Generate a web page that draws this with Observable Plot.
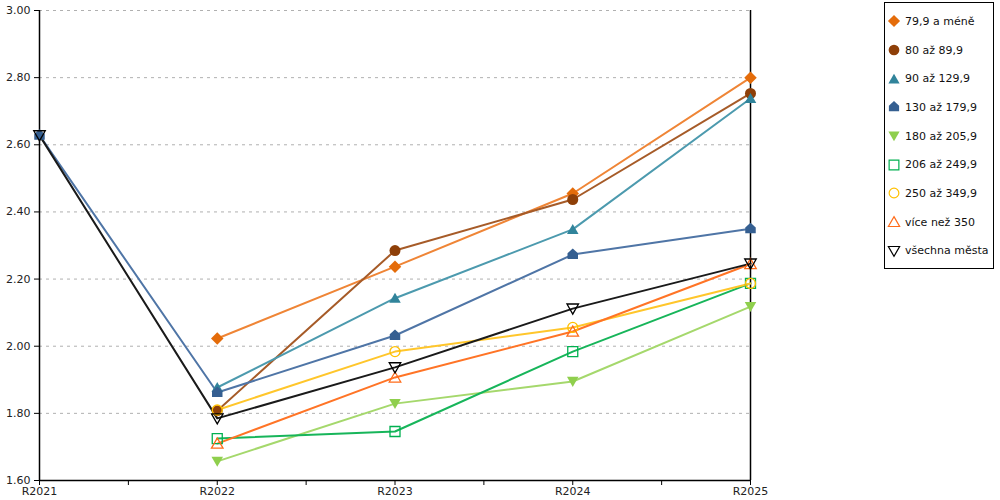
<!DOCTYPE html>
<html>
<head>
<meta charset="utf-8">
<script src="https://cdn.jsdelivr.net/npm/d3@7"></script>
<script src="https://cdn.jsdelivr.net/npm/@observablehq/plot@0.6"></script>
<style>
  html, body { margin: 0; padding: 0; background: #fff; }
  #wrap { position: relative; width: 1000px; height: 500px; font-family: "DejaVu Sans", Verdana, sans-serif; }
  #chart { position: absolute; left: 0; top: 0; }
  #legend { position: absolute; left: 884px; top: 2px; width: 110px; height: 267px; border: 1px solid #000; box-sizing: border-box; padding-top: 4px; }
  .item { display: flex; align-items: center; height: 28.7px; font-size: 11px; color: #111; white-space: nowrap; }
  .item svg { margin-left: 2px; margin-right: 4px; flex: none; }
</style>
</head>
<body>
<div id="wrap"><div id="chart"></div><div id="legend"></div></div>
<script>
// ---- data ----
const years = ["R2021", "R2022", "R2023", "R2024", "R2025"];
const seriesNames = ["79,9 a méně", "80 až 89,9", "90 až 129,9", "130 až 179,9", "180 až 205,9", "206 až 249,9", "250 až 349,9", "více než 350", "všechna města"];
const v79 = [null, 2.023, 2.237, 2.455, 2.800];
const v80 = [null, 1.808, 2.285, 2.437, 2.753];
const v90 = [null, 1.877, 2.143, 2.348, 2.738];
const v130 = [2.628, 1.862, 2.032, 2.273, 2.350];
const v180 = [null, 1.657, 1.829, 1.895, 2.118];
const v206 = [null, 1.725, 1.746, 1.984, 2.187];
const v250 = [null, 1.810, 1.984, 2.056, 2.187];
const v350 = [null, 1.710, 1.907, 2.044, 2.245];
const vAll = [2.628, 1.785, 1.937, 2.112, 2.246];
const yTicks = [1.6, 1.8, 2.0, 2.2, 2.4, 2.6, 2.8, 3.0];

// ---- custom symbols ----
const house = { draw(ctx, size) {
  const r = Math.sqrt(size) / 2;
  ctx.moveTo(0, -r * 1.15); ctx.lineTo(r, -r * 0.25); ctx.lineTo(r, r * 0.85);
  ctx.lineTo(-r, r * 0.85); ctx.lineTo(-r, -r * 0.25); ctx.closePath();
}};
const triDown = { draw(ctx, size) {
  const r = Math.sqrt(size) / 2 * 1.1;
  ctx.moveTo(-r, -r * 0.8); ctx.lineTo(r, -r * 0.8); ctx.lineTo(0, r * 0.95); ctx.closePath();
}};
const triUp = { draw(ctx, size) {
  const r = Math.sqrt(size) / 2 * 1.1;
  ctx.moveTo(0, -r * 0.95); ctx.lineTo(r, r * 0.8); ctx.lineTo(-r, r * 0.8); ctx.closePath();
}};
const diamond = { draw(ctx, size) {
  const r = Math.sqrt(size) / 2 * 1.25;
  ctx.moveTo(0, -r); ctx.lineTo(r, 0); ctx.lineTo(0, r); ctx.lineTo(-r, 0); ctx.closePath();
}};
const square = { draw(ctx, size) {
  const r = Math.sqrt(size) / 2;
  ctx.rect(-r, -r, 2 * r, 2 * r);
}};
const circ = { draw(ctx, size) {
  const r = Math.sqrt(size) / 2 * 1.05;
  ctx.moveTo(r, 0); ctx.arc(0, 0, r, 0, 2 * Math.PI);
}};

const styles = [
  { vals: v79,  line: "#ef8536", mark: "#e46c0a", sym: diamond, filled: true,  size: 100 },
  { vals: v80,  line: "#a65b28", mark: "#8e3f08", sym: circ,    filled: true,  size: 110 },
  { vals: v90,  line: "#4c9aae", mark: "#31849b", sym: triUp,   filled: true,  size: 110 },
  { vals: v130, line: "#4f75a6", mark: "#355f91", sym: house,   filled: true,  size: 110 },
  { vals: v180, line: "#a5d86c", mark: "#8fcf4d", sym: triDown, filled: true,  size: 110 },
  { vals: v206, line: "#17b55a", mark: "#00b050", sym: square,  filled: false, size: 100 },
  { vals: v250, line: "#ffc62b", mark: "#ffc000", sym: circ,    filled: false, size: 90 },
  { vals: v350, line: "#ff7426", mark: "#ff6c1a", sym: triUp,   filled: false, size: 110 },
  { vals: vAll, line: "#1a1a1a", mark: "#000000", sym: triDown, filled: false, size: 110 }
];

const rowsFor = (vals, name) => vals.map((v, i) => ({ series: name, i, value: v })).filter(d => d.value != null);

const marks = [
  Plot.gridY(yTicks, { stroke: "#b0b0b0", strokeOpacity: 1, strokeDasharray: "3,4", x1: 0, x2: 4 }),
  Plot.axisY({ ticks: yTicks, tickFormat: d3.format(".2f"), tickSize: 5, tickPadding: 4, fontSize: 11, color: "#222", stroke: "#000", label: null }),
  Plot.axisX({ ticks: d3.range(0, 4.01, 0.5), tickFormat: d => Number.isInteger(d) ? years[d] : "", tickSize: 5, tickPadding: 2, fontSize: 11, color: "#222", stroke: "#000", label: null }),
  Plot.ruleX([0, 4], { stroke: "#000", strokeWidth: 1.5 }),
  Plot.ruleY([1.6], { stroke: "#000", strokeWidth: 1.5 })
];
// lines first (drawn in reverse so the first series is on top)
styles.forEach((s, k) => {
  marks.push(Plot.line(rowsFor(s.vals, seriesNames[k]), { x: "i", y: "value", stroke: s.line, strokeWidth: 2 }));
});
styles.forEach((s, k) => {
  const opts = { x: "i", y: "value", symbol: s.sym, r: Math.sqrt(s.size / Math.PI) };
  if (s.filled) { opts.fill = s.mark; opts.stroke = "none"; }
  else { opts.fill = "white"; opts.fillOpacity = 0; opts.stroke = s.mark; opts.strokeWidth = 1.3; }
  marks.push(Plot.dot(rowsFor(s.vals, seriesNames[k]), opts));
});

const chart = Plot.plot({
  width: 880, height: 500,
  marginLeft: 39, marginRight: 130, marginTop: 10, marginBottom: 20,
  style: { fontFamily: "DejaVu Sans, Verdana, sans-serif", background: "white" },
  x: { domain: [0, 4] },
  y: { domain: [1.6, 3.0] },
  marks
});
document.getElementById("chart").appendChild(chart);

// ---- legend ----
const legend = d3.select("#legend");
styles.forEach((s, k) => {
  const item = legend.append("div").attr("class", "item");
  const svg = item.append("svg").attr("width", 14).attr("height", 14);
  svg.append("path")
    .attr("transform", "translate(7,7)")
    .attr("d", d3.symbol().type(s.sym).size(s.size * 0.95)())
    .attr("fill", s.filled ? s.mark : "none")
    .attr("stroke", s.filled ? "none" : s.mark)
    .attr("stroke-width", 1.2);
  item.append("span").text(seriesNames[k]);
});
</script>
</body>
</html>
